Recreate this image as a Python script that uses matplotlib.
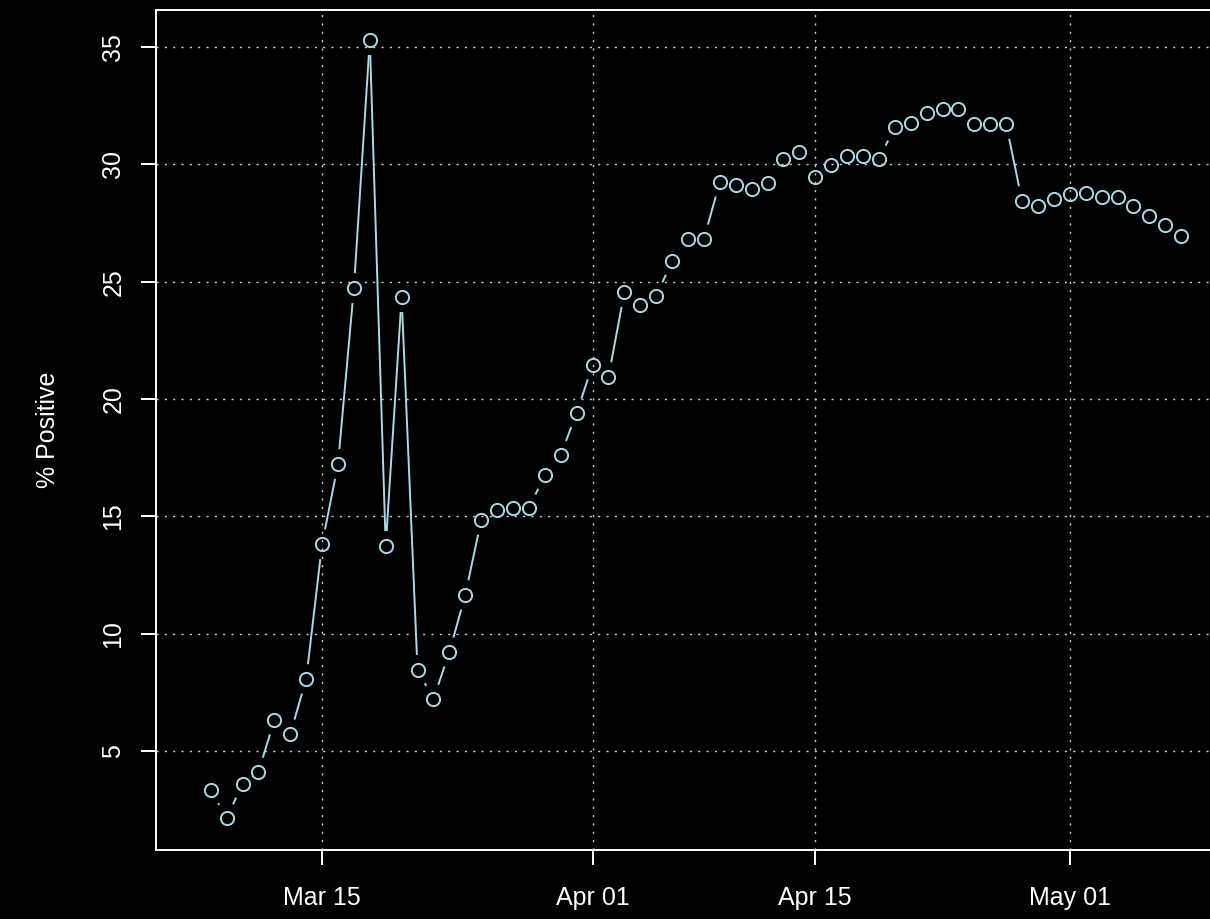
import numpy as np
import pandas as pd
import matplotlib
matplotlib.use("Agg")
import matplotlib.pyplot as plt
import matplotlib.dates as mdates

# data (daily % positive)
dates = pd.date_range("2020-03-08", "2020-05-08", freq="D")
pct_positive = [3.34, 2.15, 3.60, 4.11, 6.33, 5.73, 8.07, 13.82, 17.23, 24.73,
                35.30, 13.74, 24.35, 8.46, 7.22, 9.22, 11.65, 14.85, 15.27, 15.36,
                15.36, 16.76, 17.62, 19.41, 21.45, 20.94, 24.56, 24.01, 24.39, 25.88,
                26.82, 26.82, 29.25, 29.12, 28.95, 29.20, 30.23, 30.53, 29.46, 29.97,
                30.36, 30.36, 30.23, 31.59, 31.76, 32.19, 32.36, 32.36, 31.72, 31.72,
                31.72, 28.44, 28.23, 28.52, 28.74, 28.78, 28.61, 28.61, 28.23, 27.80,
                27.42, 26.95]
x_ticks = pd.to_datetime(["2020-03-15", "2020-04-01", "2020-04-15", "2020-05-01"])
y_ticks = [5, 10, 15, 20, 25, 30, 35]
y_label = "% Positive"

plt.rcParams['font.family'] = ['Liberation Sans', 'DejaVu Sans']
col = "#ADD8E6"

fig = plt.figure(figsize=(12.1, 9.19), dpi=100, facecolor="black")
ax = fig.add_axes([156/1210, 1 - 850/919, 1084/1210, 840/919])
ax.set_facecolor("black")

x_lo = mdates.date2num(pd.Timestamp("2020-03-15")) - 10.44
x_hi = mdates.date2num(pd.Timestamp("2020-05-01")) + 10.7
ax.set_xlim(x_lo, x_hi)
ax.set_ylim(0.79, 36.58)

# grid
for yt in y_ticks:
    ax.axhline(yt, color="#d3d3d3", lw=1.0, dashes=(1.5, 4.5), zorder=1)
for xt in x_ticks:
    ax.axvline(mdates.date2num(xt), color="#d3d3d3", lw=1.0, dashes=(1.5, 4.5), zorder=1)

# R type="b": segments with gaps around the points
xn = mdates.date2num(dates)
pts = ax.transData.transform(np.column_stack([xn, pct_positive]))
gap = 16 / 100 * fig.dpi
inv = ax.transData.inverted()
for p0, p1 in zip(pts[:-1], pts[1:]):
    d = p1 - p0
    dist = np.hypot(*d)
    if dist > 2 * gap:
        u = d / dist
        seg = inv.transform(np.array([p0 + u * gap, p1 - u * gap]))
        ax.plot(seg[:, 0], seg[:, 1], color=col, lw=1.4, zorder=2)

ax.plot(xn, pct_positive, linestyle="none", marker="o", markersize=9.5,
        markerfacecolor="none", markeredgecolor=col, markeredgewidth=1.4, zorder=3)

ax.set_xticks(mdates.date2num(x_ticks))
ax.xaxis.set_major_formatter(mdates.DateFormatter("%b %d"))
ax.set_yticks(y_ticks)
ax.set_yticklabels([str(v) for v in y_ticks], rotation=90, va="center")

for s in ax.spines.values():
    s.set_color("white")
    s.set_linewidth(1.4)
ax.tick_params(colors="white", labelsize=18, length=11, width=1.4)
ax.tick_params(axis="x", pad=15)
ax.tick_params(axis="y", pad=11)
ax.set_ylabel(y_label, color="white", fontsize=18, labelpad=30)

fig.savefig("out.png", dpi=100, facecolor="black")
